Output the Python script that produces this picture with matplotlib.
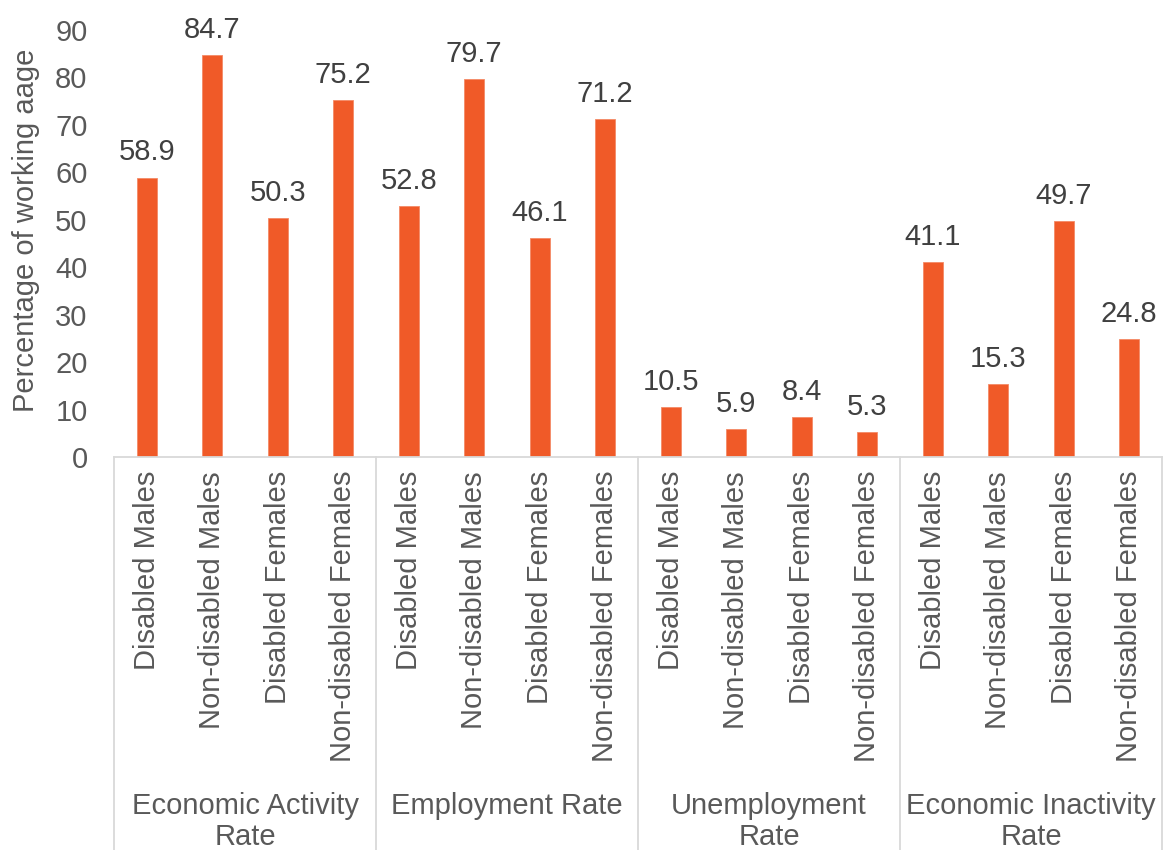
import numpy as np
import matplotlib.pyplot as plt
import matplotlib.transforms as mtransforms

plt.rcParams['font.family'] = ['Liberation Sans', 'DejaVu Sans']
plt.rcParams['font.size'] = 21

# data
groups = ["Economic Activity\nRate", "Employment Rate", "Unemployment\nRate",
          "Economic Inactivity\nRate"]
subgroups = ["Disabled Males", "Non-disabled Males", "Disabled Females",
             "Non-disabled Females"]
activity = [58.9, 84.7, 50.3, 75.2]
employment = [52.8, 79.7, 46.1, 71.2]
unemployment = [10.5, 5.9, 8.4, 5.3]
inactivity = [41.1, 15.3, 49.7, 24.8]
yticks = list(range(0, 91, 10))

values = activity + employment + unemployment + inactivity
labels = subgroups * len(groups)
x = np.arange(len(values))

bar_col = '#F05A28'
axis_col = '#D9D9D9'
tick_col = '#595959'
lab_col = '#404040'

fig = plt.figure(figsize=(11.65, 8.5), dpi=100)
ax = fig.add_axes([114 / 1165, (850 - 457) / 850, (1162 - 114) / 1165, 427 / 850])

ax.bar(x, values, width=0.31, color=bar_col, edgecolor='#F48A66', linewidth=0.6)
for xi, v in zip(x, values):
    ax.annotate(f"{v:.1f}", (xi, v), xytext=(0, 8), textcoords='offset points',
                ha='center', va='bottom', color=lab_col, fontsize=21)

ax.set_xlim(-0.5, len(values) - 0.5)
ax.set_ylim(0, 90)
ax.set_yticks(yticks)
ax.tick_params(axis='y', length=0, pad=19, colors=tick_col, labelsize=21)
ax.set_xticks([])
for s in ['left', 'right', 'top']:
    ax.spines[s].set_visible(False)
ax.spines['bottom'].set_color(axis_col)
ax.spines['bottom'].set_linewidth(1.3)

fig.text(26 / 1165, 1 - 230 / 850, "Percentage of working aage", rotation=90,
         ha='center', va='center', color=tick_col, fontsize=21)

# multi-level category axis
trans = mtransforms.blended_transform_factory(ax.transData, fig.transFigure)
for xi, lab in zip(x, labels):
    ax.text(xi, 1 - 471 / 850, lab, rotation=90, ha='center', va='top',
            color=tick_col, fontsize=21, transform=trans)

n = len(subgroups)
for gi, g in enumerate(groups):
    xc = gi * n + (n - 1) / 2
    ax.text(xc, 1 - 792 / 850, g, ha='center', va='top', color=tick_col,
            fontsize=21, linespacing=1.12, transform=trans, multialignment='center')

for b in np.arange(len(groups) + 1) * n - 0.5:
    ax.plot([b, b], [1 - 457 / 850, 0], color=axis_col, lw=1.3,
            transform=trans, clip_on=False)

fig.savefig('out.png', dpi=100, facecolor='white')
